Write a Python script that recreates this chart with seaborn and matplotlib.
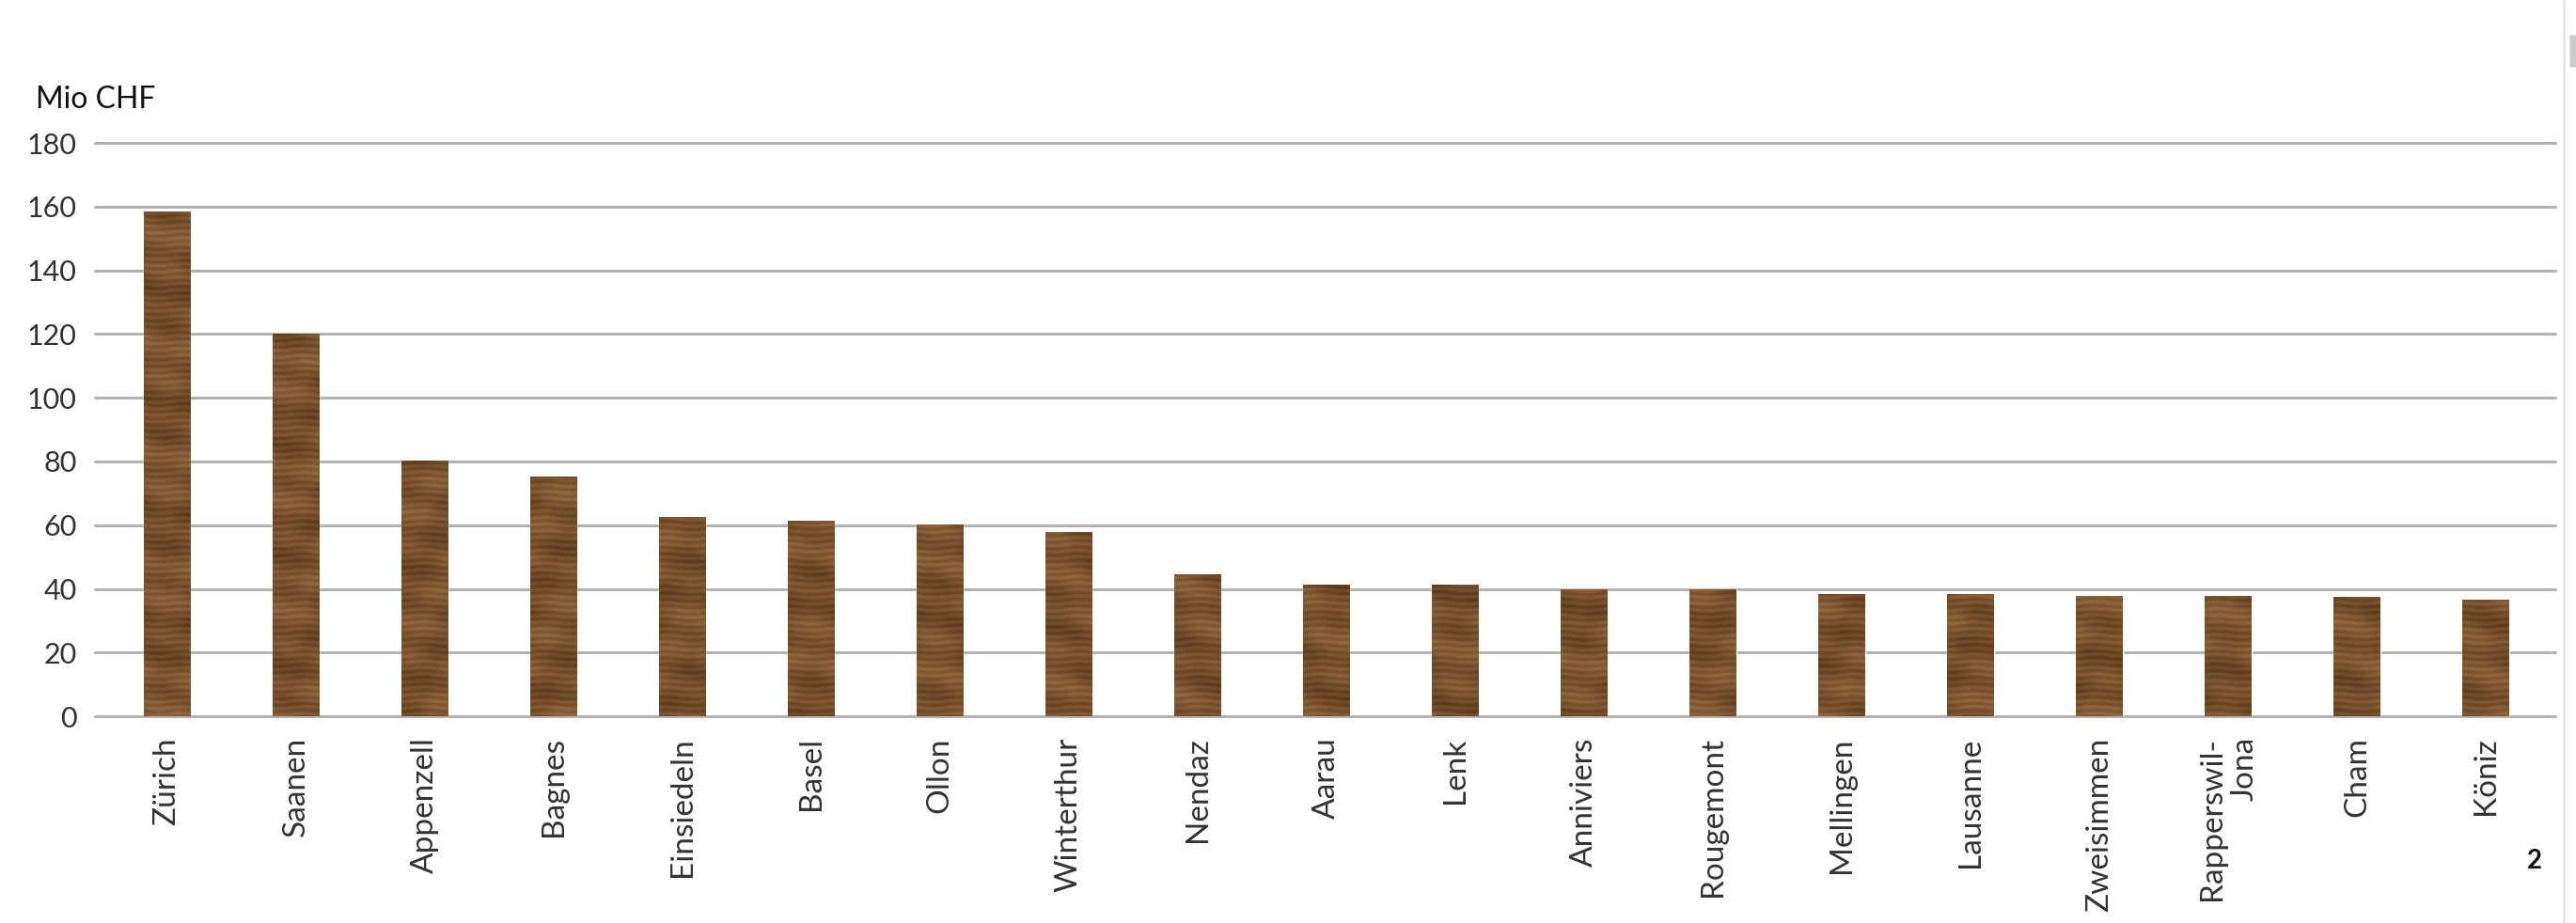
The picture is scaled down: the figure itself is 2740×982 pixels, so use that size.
import numpy as np
import pandas as pd
import seaborn as sns
import matplotlib
matplotlib.use("Agg")
import matplotlib.pyplot as plt
from matplotlib.colors import LinearSegmentedColormap
from matplotlib.patches import FancyBboxPatch
from matplotlib.lines import Line2D

# data (Mio CHF)
towns = ["Zürich", "Saanen", "Appenzell", "Bagnes", "Einsiedeln", "Basel", "Ollon",
         "Winterthur", "Nendaz", "Aarau", "Lenk", "Anniviers", "Rougemont",
         "Mellingen", "Lausanne", "Zweisimmen", "Rapperswil-\nJona", "Cham", "Köniz"]
mio_chf = [158.6, 120.0, 80.3, 75.4, 62.5, 61.5, 60.2, 58.0, 44.6, 41.2, 41.2,
           40.0, 40.0, 38.5, 38.5, 37.9, 37.7, 37.4, 36.5]
y_ticks = [0, 20, 40, 60, 80, 100, 120, 140, 160, 180]

df = pd.DataFrame({"town": towns, "value": mio_chf})

sns.set_theme(style="white")
plt.rcParams["font.family"] = ["Lato", "DejaVu Sans"]

fig = plt.figure(figsize=(27.4, 9.82), dpi=100)
ax = fig.add_axes([0.037, 0.224, 0.955, 0.621])

sns.barplot(data=df, x="town", y="value", color="#7a5230", width=0.36,
            saturation=1, ax=ax, zorder=3)

# wood grain look on each bar, clipped to the bar itself
wood = LinearSegmentedColormap.from_list(
    "wood", ["#4a2a10", "#62401f", "#76502c", "#8a6038", "#a07448"])
for k, bar in enumerate(ax.patches):
    x0, w, h = bar.get_x(), bar.get_width(), bar.get_height()
    rows = max(int(h * 4), 10)
    yy, xx = np.mgrid[0:rows, 0:40]
    tex = (0.52
           + 0.13 * np.sin(yy / 1.3 + 0.9 * np.sin(xx / 7.0 + k))
           + 0.12 * np.sin(yy / 7.3 + xx / 25.0 + k * 2.1)
           + 0.10 * np.sin(yy / 23.0 + 1.4 * np.sin(xx / 12.0 + k * 0.6) + k))
    im = ax.imshow(tex, cmap=wood, vmin=0, vmax=1, extent=(x0, x0 + w, 0, h),
                   aspect="auto", origin="lower", interpolation="bilinear",
                   zorder=3.5)
    im.set_clip_path(bar)

ax.set_xlim(-0.555, 18.54)
ax.set_ylim(0, 180)
ax.set_yticks(y_ticks)
ax.yaxis.grid(True, color="#b2b2b2", linewidth=2.2)
ax.xaxis.grid(False)
ax.set_axisbelow(True)
for gl in ax.get_ygridlines():
    gl.set_clip_on(False)

ax.set_xticks(range(len(towns)))
ax.set_xticklabels(towns, rotation=90, fontsize=24, color="#333333",
                   multialignment="right")
ax.tick_params(axis="x", length=0, pad=16)
ax.tick_params(axis="y", length=0, pad=14, labelsize=22, labelcolor="#333333")
ax.set_xlabel("")
ax.set_ylabel("")
sns.despine(ax=ax, left=True, bottom=True)

fig.text(0.014, 0.883, "Mio CHF", fontsize=23, color="#111111", va="baseline")
fig.text(0.984, 0.067, "2", fontsize=20, fontweight="bold", color="#111111",
         ha="center", va="center")

# page scrollbar at the right edge
fig.add_artist(Line2D([0.9953, 0.9953], [0, 1], transform=fig.transFigure,
                      color="#e6e6e6", linewidth=2))
fig.add_artist(FancyBboxPatch((0.9976, 0.927), 0.0024, 0.035,
                              boxstyle="round,pad=0,rounding_size=0.001",
                              transform=fig.transFigure, fc="#cccccc", ec="none"))

fig.savefig("out.png", dpi=100, facecolor="white")
